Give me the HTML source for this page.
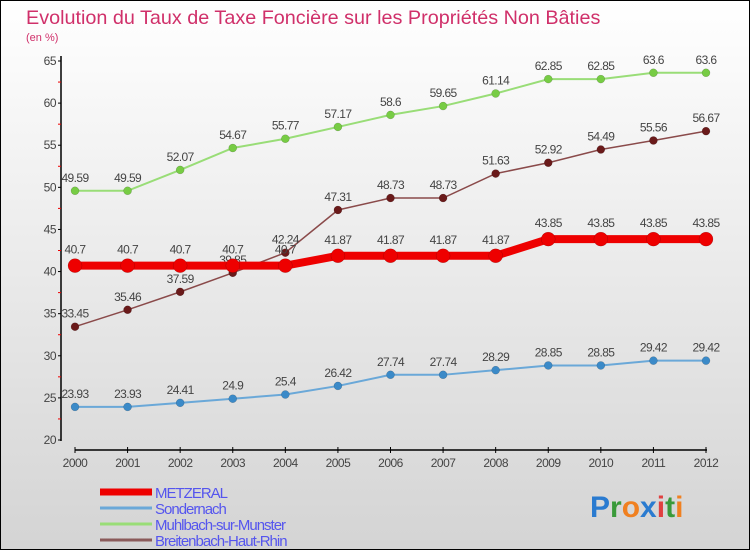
<!DOCTYPE html>
<html><head><meta charset="utf-8"><style>
body{margin:0;}
#c{width:750px;height:550px;position:relative;box-sizing:border-box;border:1px solid #000;background:linear-gradient(#ffffff,#d4d4d4);font-family:"Liberation Sans",sans-serif;overflow:hidden}
</style></head><body>
<div id="c">
<svg id="s" width="750" height="550" style="position:absolute;left:-1px;top:-1px">
<text x="26" y="24" font-size="19.8" fill="#d0306a" font-family="Liberation Sans, sans-serif">Evolution du Taux de Taxe Foncière sur les Propriétés Non Bâties</text>
<text x="26" y="41" font-size="11" fill="#d0306a" font-family="Liberation Sans, sans-serif">(en %)</text>
<g id="g"></g>
<text x="590" y="517" font-size="30" font-weight="bold" font-family="Liberation Sans, sans-serif"><tspan fill="#2a7bd0">P</tspan><tspan fill="#3a9a3a">r</tspan><tspan fill="#f08020">o</tspan><tspan fill="#2a7bd0">x</tspan><tspan fill="#e04040">i</tspan><tspan fill="#3a9a3a">t</tspan><tspan fill="#f08020">i</tspan></text>
</svg>
</div>
<script>
const years=[2000,2001,2002,2003,2004,2005,2006,2007,2008,2009,2010,2011,2012];
const metzeral=[40.7,40.7,40.7,40.7,40.7,41.87,41.87,41.87,41.87,43.85,43.85,43.85,43.85];
const sondernach=[23.93,23.93,24.41,24.9,25.4,26.42,27.74,27.74,28.29,28.85,28.85,29.42,29.42];
const muhlbach=[49.59,49.59,52.07,54.67,55.77,57.17,58.6,59.65,61.14,62.85,62.85,63.6,63.6];
const breitenbach=[33.45,35.46,37.59,39.85,42.24,47.31,48.73,48.73,51.63,52.92,54.49,55.56,56.67];
const yTicks=[20,25,30,35,40,45,50,55,60,65];
const names=["METZERAL","Sondernach","Muhlbach-sur-Munster","Breitenbach-Haut-Rhin"];
const NS="http://www.w3.org/2000/svg";
const g=document.getElementById('g');
const x=i=>75+i*(706-75)/(years.length-1);
const y=v=>440-(v-20)*(440-61)/45;
function el(t,a,txt){const e=document.createElementNS(NS,t);for(const k in a)e.setAttribute(k,a[k]);if(txt!==undefined)e.textContent=txt;g.appendChild(e);return e;}
let e=el('line',{x1:61,y1:56,x2:61,y2:441,stroke:'#000','stroke-width':1.5});


e=el('line',{x1:75,y1:450,x2:707,y2:450,stroke:'#000','stroke-width':1.5});


yTicks.forEach((v,i)=>{
 el('line',{x1:58,y1:y(v),x2:61,y2:y(v),stroke:'#000'});
 if(i<yTicks.length-1) el('line',{x1:58,y1:y(v+2.5),x2:61,y2:y(v+2.5),stroke:'#e00'});
 const t=el('text',{x:56,y:y(v)+4,'font-size':12,fill:'#444','text-anchor':'end','letter-spacing':-0.5},String(v));
 
 
});
years.forEach((yr,i)=>{
 el('line',{x1:x(i),y1:447,x2:x(i),y2:453,stroke:'#000'});
 const t=el('text',{x:x(i),y:467,'font-size':12,fill:'#444','text-anchor':'middle','letter-spacing':-0.5},String(yr));
 
 
});
function series(data,color,w,r,dot,name){
 const p=el('polyline',{points:data.map((v,i)=>x(i)+','+y(v)).join(' '),fill:'none',stroke:color,'stroke-width':w});
 
 
 data.forEach((v,i)=>{
  const c=el('circle',{cx:x(i),cy:y(v),r:r,fill:dot,stroke:'rgba(0,0,0,0.25)','stroke-width':0.5});
  
  
  const t=el('text',{x:x(i),y:y(v)-(r+5),'font-size':12,fill:'#444','text-anchor':'middle','letter-spacing':-0.6},String(v));
  
  
 });
}
series(sondernach,'#6aa8d8',2,4,'#3b8ac8','sondernach');
series(muhlbach,'#99dd77',2,4,'#77cc44','muhlbach');
series(breitenbach,'#8a4a4a',1.5,4,'#6a1a1a','breitenbach');
series(metzeral,'#ee0000',8,7,'#ee0000','metzeral');
const lc=['#ee0000','#6aa8d8','#99dd77','#8a5a5a'],lw=[7,3,3,3];
names.forEach((n,i)=>{
 const yy=492+i*16;
 const l=el('line',{x1:100,y1:yy,x2:152,y2:yy,stroke:lc[i],'stroke-width':lw[i]});
 
 
 const t=el('text',{x:155,y:yy+6,'font-size':15,fill:'#5555ee','letter-spacing':-1},n);
 
 
});
</script>
</body></html>
